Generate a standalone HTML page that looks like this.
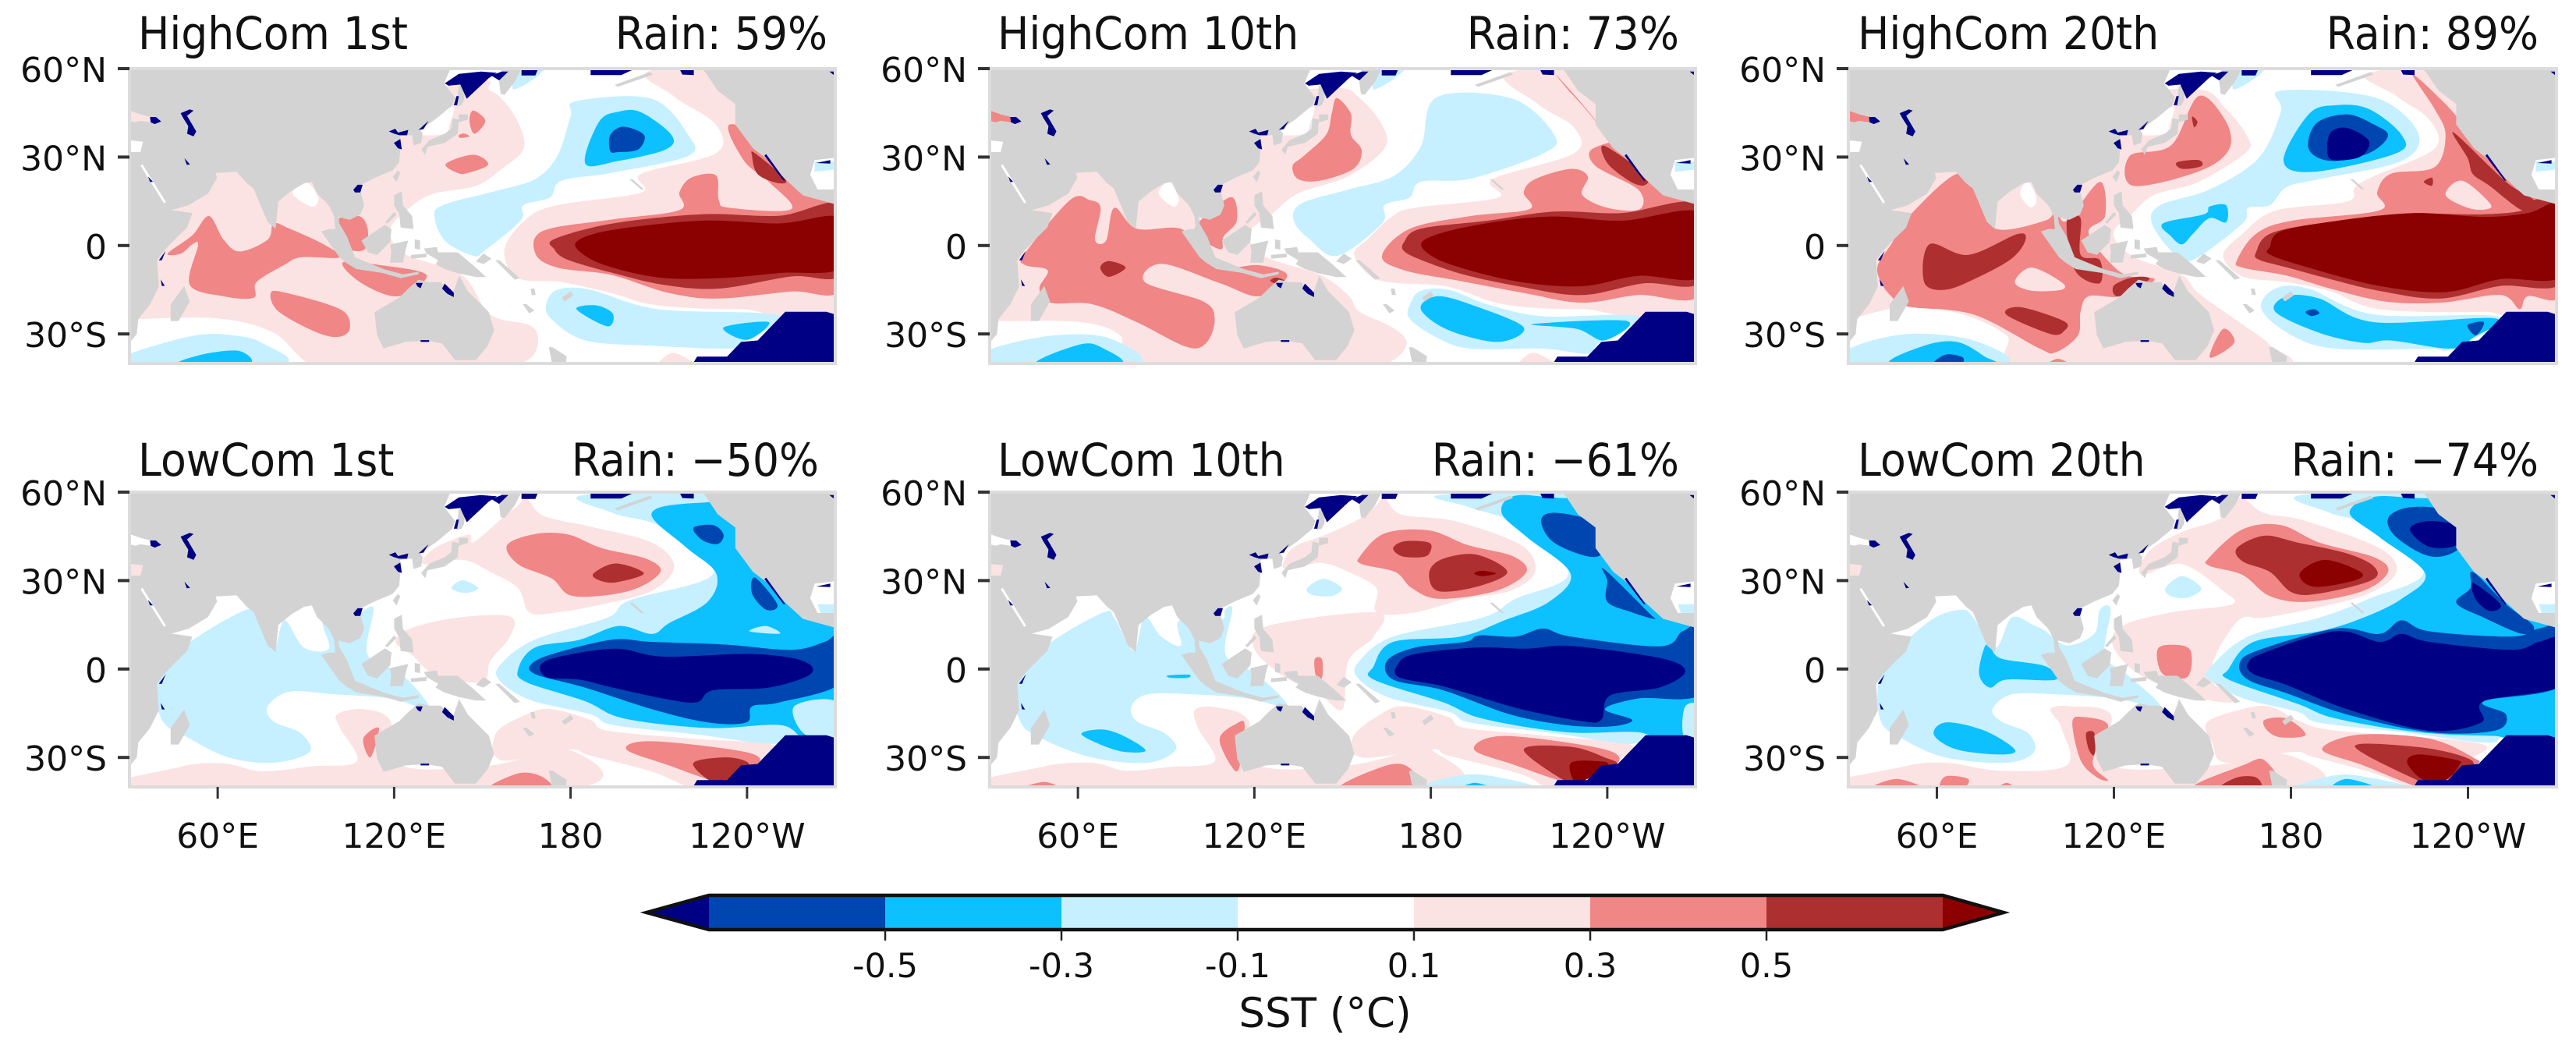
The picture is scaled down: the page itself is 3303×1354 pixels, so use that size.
<!DOCTYPE html>
<html lang="en">
<head>
<meta charset="utf-8">
<title>SST composites</title>
<style>
html,body{margin:0;padding:0;background:#fff;}
svg{display:block;}
text{font-family:"DejaVu Sans","Liberation Sans",sans-serif;fill:#111;}
</style>
</head>
<body>
<svg id="figure" xmlns="http://www.w3.org/2000/svg" width="3303" height="1354" viewBox="0 0 3303 1354">
<rect x="0" y="0" width="3303" height="1354" fill="#fff"/>
</svg>
<script>
// ---------- chart values ----------
const panelTitles = ["HighCom 1st","HighCom 10th","HighCom 20th","LowCom 1st","LowCom 10th","LowCom 20th"];
const panelRain = ["Rain: 59%","Rain: 73%","Rain: 89%","Rain: \u221250%","Rain: \u221261%","Rain: \u221274%"];
const lonTicks = [60,120,180,240];
const lonTickLabels = ["60°E","120°E","180","120°W"];
const latTicks = [60,30,0,-30];
const latTickLabels = ["60°N","30°N","0","30°S"];
const colorbarEdges = [-0.7,-0.5,-0.3,-0.1,0.1,0.3,0.5,0.7];
const colorbarTicks = [-0.5,-0.3,-0.1,0.1,0.3,0.5];
const colorbarTickLabels = ["-0.5","-0.3","-0.1","0.1","0.3","0.5"];
const blackSeaLevels = [0.1,0.3,0.3,0,0,0];
const medSeaLevels = [0,0,0,0.1,0.1,0.1];

// contour regions: [level, [lon,lat, lon,lat, ...]]
const contoursHigh1st = [
[0.1,[152.2,52.9,156.2,50.2,161.9,42.3,164.1,33,156.6,26,147.8,20.2,133.6,17.6,125.7,13.2,118.6,5.2,124,-3,143,-10,152.7,-23.4,166,-27,169,-32,166,-38.4,154.6,-41,115,-41,93,-41,79,-29.6,60,-24.7,31.5,-25,33,-25,40,5,50,20,70,35,120,50,150,56]],
[0.1,[208.6,59.6,215,50.7,229.4,41,229.4,31.3,204,24.3,204,18,175.5,13.7,165,9,157.5,-1.3,162,-11,177,-12.4,194.4,-16.3,209.5,-20.3,238,-21.6,272,-20.3,272,60]],
[0.1,[210,-41,214,-36.5,219,-38,222,-41]],
[0,[85.5,17.6,90,21.6,94.2,16.2,92,13.2]],
[0,[128.8,38.7,139.8,47.1,138.9,41,137.2,37.9,129.7,37.4]],
[0.3,[43,-2.7,51.4,3.5,57,10,62,2,67.5,-2,77,2,79,7.5,84.5,5.7,96,0.4,101.6,-4,88.3,-4,82.6,-6.6,73.2,-12.4,72.2,-17.7,61.8,-17.2,50.5,-13.3,53.3,0,51.4,0.4,47.6,-2.7]],
[0.3,[100.6,8.4,108,10,111,5.7,110,-1.3,103.5,-0.5]],
[0.3,[102.5,-5.8,115,-6.6,131,-10,121.5,-17.2,109,-12.8]],
[0.3,[137.6,27.7,146.9,30.8,152,27.5,145.1,24.6,141.6,24.6]],
[0.3,[146.9,45.8,151,42.3,147.3,37.9,145.6,42.3]],
[0.3,[142,37.4,143.8,38,145.6,37,142.5,36.5]],
[0.3,[78,-16.3,82.6,-15.9,101.6,-21.6,105,-27.8,101.6,-30.9,94,-29.6,80.8,-22.5]],
[0.3,[234,41,251,34,272,14.5,272,-14.6,255,-15.6,230,-18,213,-16,194,-10,175.5,-7.5,168,-2.7,170.7,5,194,8.8,217,12,217,18,221,23,229.4,23.8,230.4,15.4,234,12.8,255,12.3,247.4,21.6,239,28.7]],
[0.5,[174.5,2.2,194.4,7.5,224.7,10.6,251,10.1,272,13.7,272,-9.6,255,-10.5,230.4,-14.6,211.5,-13.3,194.4,-9.3,179.2,-4.9,174.5,-1.3]],
[0.5,[242.7,31.3,253,22.5,250.4,21.2,243.6,24.2,241.7,30.4]],
[0.7,[182,1.3,194.4,5.3,224.7,8.4,251,7.5,272,9.3,272,-7.5,251,-9.3,232,-11,211.5,-11,194.4,-7.5,185,-3.5]],
[-0.1,[182,49,207.5,49.8,220,37.5,220,30.4,194.4,24.7,177,22,173,16.3,164,13.7,163,8.4,150.8,-1.7,147,-3.5,137.6,1.3,133.8,9.3,136.6,13.7,154.6,18.5,167.9,22.5,175.5,30.4,180,43.7]],
[-0.1,[160.5,53,166,55.5,171,60,164,60,161,57]],
[-0.1,[171.7,-20,175.5,-15,186.8,-15,209.6,-21.6,251,-23.8,238,-33,234,-35,207.6,-34,185,-32.2,173.5,-25]],
[-0.1,[30.6,-36.6,52.3,-30.5,65.6,-30.5,75,-33,81.7,-40.2,29,-40.2]],
[-0.3,[185,27.8,189.7,42,196.3,45.4,203.9,45.2,214.3,37.5,212.4,32.6,196.3,28.7]],
[-0.3,[182,-21.6,188.7,-20.3,194.4,-23.2,192.5,-27.4]],
[-0.3,[232,-27.8,247.4,-26,240,-32]],
[-0.3,[46.7,-40.2,56,-36.7,67.5,-35.8,70.3,-40.2]],
[-0.5,[193.5,32,193.5,37.5,198,40.3,205,37.5,203,32.6,196.3,31.7]]
];
const contoursHigh10th = [
[0.1,[148,53.4,155.8,50,163.4,41,164.3,33,152,23.5,135,17.7,126.4,11,118,4,123.6,-3.7,142.5,-10,152,-17,155.8,-22.5,167,-27.8,171.8,-33,167,-39,155.8,-41,81.9,-41,74.3,-30.4,61,-26,32.6,-25.6,33,-25,40,5,50,20,70,35,120,50]],
[0.1,[207.8,59,216.4,48,228.7,40,228.7,31.3,201,22.5,203,16.3,174.7,12.8,167,10,158.6,2.2,153.9,-3,159.5,-10.4,167,-12.6,186,-14,205,-20,231.5,-21.6,272,-20,272,60]],
[0.1,[210,-41,214,-36.5,219,-38,222,-41]],
[0,[87.5,17.6,91,21.6,94.2,16.2,92.5,13.2]],
[0,[128.8,38.7,139.8,47.1,138.9,41,137.2,37.9,129.7,37.4]],
[0.3,[42,-2.7,57.3,15.4,64,15.4,67.7,12.8,65.8,2,69.6,1.7,72.4,12.8,80,5.7,95,5.7,100.8,-2.3,108.4,-7.6,121.7,-6.7,131.2,-10.2,121.7,-17.2,108.4,-12.8,88.5,-6.2,82.8,-12.4,102.7,-19,106.5,-25,103.7,-33,97,-34.4,80,-26,64.8,-19.9,50.6,-19.4,46.9,-14.6,49.7,-8.4,42,-6.6]],
[0.3,[100.8,7.5,112,16.4,114,8.4,109.5,3,108.6,-1.3,101,3]],
[0.3,[148,50,152.8,44.7,152.8,37.6,156.5,32.3,153.7,26,142.4,22,134.9,22.5,133,27,136.8,30.4,144.4,37.6,146.3,44.7]],
[0.3,[222.5,58,228,52,234,45,237,41,232,47,226.5,53]],
[0.3,[235.3,33,250.5,34,271,14.5,272,-16.3,250.5,-16.8,231.5,-19.4,212.6,-16.3,189.9,-12,171,-8.4,163.4,-3.5,172.9,5.7,193.6,10,213.5,12.3,211.6,18,215.4,22.5,227.7,26,233.4,23.4,231.5,17.2,240,12.8,251,12.3,250.5,19,236,27]],
[0.5,[171,1.3,176.6,5.7,199.3,8.4,222,11.5,244.8,11,272,13.7,272,-12,252.4,-12.8,231.5,-16.8,210.7,-14,191.8,-10,178.5,-5.6,171,-2]],
[0.5,[239,33.8,253,24,252.5,20.4,247.5,21.9,240,28]],
[0.5,[67.6,-7.5,70.5,-5.3,76.2,-7.5,70.5,-10.6]],
[0.5,[125.4,-11.9,127.3,-10.9,130.2,-11.9,127.3,-12.8]],
[0.7,[177.5,1.7,193.6,6.6,220,9.8,244.8,8.4,272,11,272,-10.3,250.5,-10.3,231.5,-13.8,210.7,-12.4,191.8,-8,180.4,-3.6]],
[-0.1,[182,50.3,207.8,49.8,222,37.5,218.4,31.3,193.6,22.7,176.6,21.6,172.8,16.3,164.3,13.7,163.4,7.5,148.2,-3.5,138.7,2.2,133.4,8.4,135.9,14.2,152,19,167.2,23.5,176.6,33.6]],
[-0.1,[160.5,53,166,55.5,171,60,164,60,161,57]],
[-0.1,[172.9,-20,176.6,-15.4,186,-15,199.4,-20,218.3,-24,250.4,-24,237.2,-33,233.4,-36.7,218.3,-35,193.7,-35,182.4,-31.4,172.9,-25]],
[-0.1,[30,-35.3,51.6,-30.5,70.5,-31.4,80,-40.2,29,-40.2]],
[-0.3,[176.6,-21.6,182.3,-17.2,195.5,-20.7,211.6,-27.8,203,-32.7,186,-28.7]],
[-0.3,[214.5,-26.7,246.7,-25.6,239,-32.2,229.7,-28.3]],
[-0.3,[45.9,-40.2,61,-33.5,68.6,-34.9,74.3,-40.2]]
];
const contoursHigh20th = [
[0.1,[148.7,53,158,46.3,165.4,36.6,164.5,31.3,148.7,21.6,133.8,17.2,126.4,11,119.9,4,126.4,-3.7,143,-10,148.7,-16.2,163.6,-26.8,172.9,-33.8,174.7,-41,91,-41,83.6,-30.5,68.7,-23.4,50,-20.7,30.6,-25,33,-25,40,5,50,20,70,35,120,50]],
[0.1,[208,59,215.7,50.7,226.8,42.8,228.8,33,208,23.5,201.7,19.8,199,14.9,174.7,11.8,163.6,4,157,-3.4,163.6,-10.5,178.5,-12.4,193.3,-15.5,210,-21.6,245.4,-22.5,272,-20.8,272,60]],
[0,[88.2,17.7,91,21.6,93.8,15.4,91.5,13]],
[0,[128.8,38.7,139.8,47.1,138.9,41,137.2,37.9,129.7,37.4]],
[0.3,[40,-6.6,44.5,0.4,50,9.3,66.8,24.3,74.3,17.2,79.9,5.7,96.6,8.4,100.3,12,104,8.4,115.2,21.6,117,10,111.5,4,122.6,-9.3,133.8,-11.5,122.6,-17.2,111.5,-17.2,108.7,-22.5,107.8,-30.5,100.3,-36.2,94.7,-34.9,72.4,-23.4,50,-20.7,44.5,-17.2,40.8,-12]],
[0.1,[86.4,-12.4,92,-7.5,102.2,-12.4,102.2,-15,92,-15.3]],
[0.3,[148.7,50.7,158,42,158.9,32.4,148.7,25.1,126.4,20.3,125.4,30.4,139.4,34]],
[0.3,[221.3,58,228.7,46.3,232.4,37.5,228.7,26.6,213.8,24.3,209.2,18,210,11.9,180.3,8.4,168.2,4,161.7,-5,163.6,-7.5,178.5,-10.2,193.3,-14.6,212,-19,230.6,-19.4,251,-16.8,257.5,-21.6,260.3,-17.2,272,-16.3,272,13.7,245.4,34,232.4,48]],
[0.1,[232.4,17.2,238,22,247.3,14.5,246.4,12.3,239.9,12.8]],
[0.3,[157,-28.3,160.8,-33,152.5,-38]],
[0.3,[97.5,-40.5,101,-38.4,105,-40.5]],
[0.5,[168.2,-2.2,172.9,4,189.6,7.5,217.5,10.6,245.4,10.6,258.5,11.9,262,15.4,272,13.7,272,-12.4,251,-13.7,230.6,-18,210,-15.4,193.3,-11.4,178.5,-7.4,169.1,-4.8]],
[0.5,[235.2,38.3,252.9,21.6,262.2,15.4,258.5,11.9,247.3,20.3,241.7,24.2,239.9,29.6]],
[0.5,[55.7,-12.4,57.5,0.4,70.6,-3.2,87.3,3.9,90,1.8,85.4,-4.4,74.3,-10.6,63,-15]],
[0.5,[83.6,-23.5,88.2,-20.9,103.1,-25.7,103.1,-29,98.5,-30]],
[0.5,[104,7.9,108.7,9.3,108.7,-3.1,115.2,-4.9,115.2,-12.8,106.8,-8.4]],
[0.5,[119.9,-13.7,126.4,-10.8,132,-11.5,121.7,-17.2]],
[0.5,[141.3,28.2,148.7,29,149.6,26.9,143.1,26]],
[0.5,[146.5,43.7,148.3,42,147.2,40.1]],
[0.5,[225,21.6,227.8,23,227.8,20.3]],
[0.7,[172.9,-0.4,176.6,4.8,195.2,8.3,221.3,11,245.4,9.7,260.3,11,272,13.7,272,-10,251,-11.4,232.4,-15.8,210,-13.7,186,-7.5,172.9,-3.1]],
[-0.1,[176.6,52.5,208.2,50.3,223,38.4,217.5,28.7,189.6,22.5,178.5,19.8,172.9,13.7,165.4,12.7,163.6,7.5,146.8,-4.9,140.3,-2.7,132.9,7.5,135.7,13.7,152.4,19,169,29.6,176.6,45.4]],
[-0.1,[160.5,53,166,55.5,171,60,164,60,161,57]],
[-0.1,[170,-21.6,174.7,-14.6,185.9,-14.6,208.2,-23.4,251,-24.3,234.3,-35,226.8,-35,195.2,-35,180.3,-30.5]],
[-0.1,[30.6,-34.9,50,-30,72.4,-32.2,82.6,-40.2,29.6,-40.2]],
[-0.3,[177.5,28.7,186,44.5,195.2,47.6,206.4,46.3,217.5,37.5,215.7,31.3,187.8,25]],
[-0.3,[136.6,7.5,150.5,10.6,152.4,13.2,158,13.7,158,7.9,152.4,9.3,146.8,4,143.1,0.4,139.4,3.1]],
[-0.3,[174.7,-22.5,178.5,-17.2,189.6,-18,208.2,-26,249.2,-24.7,241.7,-31.3,234.3,-35,213.8,-32.2,204.5,-33,189.6,-29.6]],
[-0.3,[44.5,-40.2,55.7,-34,66.8,-32.7,76.1,-37.6,78,-40.2]],
[-0.5,[186,32.8,188.7,41.5,199,44.5,208.2,41,212.9,37.2,206.4,31.3,193.3,28.7]],
[-0.5,[185,-22.5,187.8,-21.6,189.6,-23,186.8,-23.9]],
[-0.5,[239.9,-27,245.4,-26,242.7,-30.5]],
[-0.5,[59,-40.2,63,-37,68.7,-37.9,67.8,-40.2]],
[-0.7,[192.4,31,193.3,38.1,198.9,39.9,206.4,35.5,203.6,30.2,195.2,28.9]]
];
const contoursLow1st = [
[0.1,[165,58,170.7,52,186.8,48.3,207.6,42.9,215.2,34.7,207.6,26.5,190.6,21.9,175.5,19.2,166,19.2,162.2,27.4,152.7,32.9,143.3,37,130,35.6,133.8,41,145.2,45.6,147,43,156.5,51,162.2,55.6]],
[0.1,[125.3,13.7,141.4,17.4,159.4,17.8,159.4,11,152.7,2.8,149.9,-4.5,133.8,-1.7,126.2,4.6,120.5,9.2]],
[0.1,[32.5,-40.5,46.7,-33.3,61.8,-32,75,-34.7,92,-33,107.3,-31.3,101.6,-20,100.6,-15.4,109.2,-13.6,118.6,-17.3,122.4,-32.7,152.7,-32.7,179.2,-27.3,179.2,-40.5]],
[0.1,[165,-15.4,173.6,-13.6,186.8,-17.3,192.5,-20.9,220.9,-23.6,249.3,-25.9,241.7,-32.7,228.5,-40.5,220.9,-40.3,207.6,-34.8,186.8,-29.4,179,-27.3,156.5,-31,154.6,-21.8]],
[0.3,[158.4,42,167.9,45.8,179.2,45.6,190.6,41,205.7,37.4,210.5,32.8,200,26.5,181,24.7,173.6,30.7,162.2,35.5]],
[0.3,[109.5,-23.6,114.8,-20,112,-30]],
[0.3,[152.7,-40.5,162.2,-35.4,169.8,-36.3,172.6,-40.5]],
[0.3,[199,-27.3,207.6,-24.5,239.7,-28.2,243.6,-32.7,232.3,-38,228.5,-38,213.4,-32.7]],
[0.5,[187.8,32.4,195.4,35.8,204.9,32.4,195.4,29.4,189.7,30.1]],
[0.5,[221.8,-31.8,234,-30,240.8,-32.7,232.3,-38,227.5,-38]],
[-0.1,[51.4,9.7,69.4,20,73.2,17.3,78.9,6.4,82.7,16.5,89.3,7.3,97.8,6.9,95.9,16.5,105.4,16.5,110.1,20.1,113,20,111,4.7,122.4,-1.6,131.9,-13.3,118.6,-10,99.7,-8.6,84.5,-7.7,77,-12.7,78.9,-17.7,88.3,-21.8,91.2,-28.2,78.9,-31.8,63.7,-30,50.5,-23.6,41,-17.2,39,-1.8]],
[-0.1,[186.8,59.3,194.4,52.9,211.4,47.9,228.5,32.4,200,23.3,192.5,17.4,167.9,10,156.5,1.9,155.6,-3.6,166,-10.4,186.8,-15.4,194.4,-19,222.8,-22.2,247.4,-25.4,255,-23.6,272,-23.6,272,59.3]],
[-0.1,[139.5,27.4,143.3,30.1,148.6,27.4,144.2,25.8]],
[-0.3,[225.7,56.5,207.6,52.9,219,41.5,229.5,32.4,226.6,22.8,213.4,15.5,207.6,11.9,196.3,14.6,183,9.9,167.9,7.3,162.2,0,165,-4.5,184.9,-10.9,198.2,-16.8,226.6,-20,251.2,-19,259.7,-23.6,272,-23.6,272,56.5]],
[-0.1,[256,-12.7,270,-10.9,272,-22.7,259.9,-22.3]],
[-0.1,[240.8,12.8,246.4,14.6,251.2,12]],
[-0.5,[167,2,175.5,5.6,194.4,10,207.6,9.2,232.3,8.3,255,6.5,266.4,9.2,272,11.9,272,-4.5,251.2,-11.3,241.7,-12.7,239.8,-18.1,226.6,-18.1,207.6,-13.6,184.9,-6.3,167.9,-1.7]],
[-0.5,[221.8,47.9,228.5,48.8,232,45.6,230,42.4,224.7,43.8]],
[-0.5,[242.7,31,250.3,21.9,246.5,20.1,241.7,25.6]],
[-0.7,[171.7,2.8,194.4,6.9,211.4,4.2,241.7,5.1,258.8,2.8,261.6,-1.7,247.4,-6.3,228.5,-7.2,222.8,-11.3,211.4,-10,194.4,-6.3,183,-3.6,171.7,-2.7]]
];
const contoursLow10th = [
[0.1,[164.3,58,170,52.4,188,50.2,210.7,42,215.4,32.9,206.9,26.5,191.7,23.8,174.7,19.2,161.5,19.2,161.5,27.4,152,32.9,142.5,36,130.2,33.8,133,41,144.4,45.6,155.8,51,161.5,55.6]],
[0.1,[124.5,14.6,161.5,19.2,160.6,11,152,2.8,150,-13.6,142.5,-9,129,-1.8,119.8,7.3]],
[0.1,[31.7,-40.5,47.8,-33.2,64.8,-31.8,76.2,-34.5,91.4,-33.2,106.5,-31.3,100.8,-20,100,-13.6,108.4,-13.2,117.9,-17.3,121.7,-32.7,152,-32.7,174.7,-27.3,180.4,-27.3,180.4,-40.5]],
[0.1,[164.3,-14.5,171.9,-12.7,186,-16.3,191.7,-20,220,-22.7,248.4,-25.9,240.8,-32.7,231.3,-40.3,220,-40.3,210.7,-35.7,186,-29.4,180.4,-27.3,156.5,-30,153.7,-22.7]],
[0.3,[156,38.3,164.3,46,179.5,47,192.7,42,207.8,38.3,212.5,32.9,202.2,26.5,183,23.8,173.6,27.4,167.9,32.9,156.5,35.6]],
[0.3,[108.2,-23.6,113.8,-18.6,116.7,-19,114.8,-33.6,112,-32.7]],
[0.3,[140.5,3.3,143,3.3,143,-3,140.9,-2.2]],
[0.3,[149,-40.5,165,-32.7,172.8,-33.6,174.7,-40.5]],
[0.3,[41,-40.5,48.6,-38.3,53.3,-40.5]],
[0.3,[194.7,-27.3,205.1,-22.7,239.2,-27.3,243,-32.7,229.8,-38.2,225,-38.2,208.9,-32.7]],
[0.5,[167.2,41,171,43.3,179.5,42.8,179.5,39.2,176.6,37.9,170,38.3]],
[0.5,[179.5,32.9,184.2,37.4,195.6,38.8,206,32.9,195.6,27.9,182.3,26.5]],
[0.5,[211.6,-27.3,227.7,-26.4,239.2,-30,243,-32.7,230.7,-38.2,226,-38.2]],
[0.7,[194.7,32.4,197.5,33.3,202.2,32.4,197.5,31.5]],
[0.7,[227.7,-31.8,237.2,-31.3,240,-32.7,231.5,-38.2,228.7,-38.2]],
[-0.1,[51,9.2,68.7,19.2,72.4,17.3,78.9,6.2,82.7,17.5,88.3,11,95,8,94.5,16.5,108.4,16.5,110,20.1,112.5,20.1,110.3,4.7,120.9,-1.8,131.3,-12.7,117.9,-10,99,-8.6,83.8,-8.6,78.2,-12.7,80,-17.7,89.5,-21.8,93.3,-27.3,83.8,-31.8,64.8,-30,47.7,-23.6,40.1,-17.2,39.2,-1.8]],
[-0.1,[186,59.3,193.6,54.7,208.8,49.2,226.8,32.4,208.8,23.8,197.5,17.4,167.2,11,155.8,2.8,154.9,-2.7,165.3,-9.5,186,-14.5,193.6,-18.2,222,-21.8,246.7,-25.4,254.2,-23.6,272,-23.6,272,59.3]],
[-0.1,[137.9,27.4,143.6,30.6,149.8,27.4,146.4,24.8,139.8,25.1]],
[-0.1,[177,-40.5,190.4,-36,201.7,-36.5,214.9,-40.5]],
[-0.3,[227.7,57.9,208.8,58.8,204.1,52.9,212.7,44.7,227.5,32.4,220.2,22.8,205,16.5,190,11,167.2,9.2,160.6,1,160.6,-3.6,184.2,-11.3,197.5,-16.8,225.9,-21.4,250.5,-21.4,272,-23.6,272,57.9]],
[-0.1,[266.5,-12.7,272,-12.7,272,-22.7,266,-22.7]],
[-0.3,[90.6,-2.2,97.7,-1.9,97.3,-3,91.6,-3]],
[-0.3,[61.3,-22.3,68,-20.5,75.5,-22.7,83,-27.7,73.6,-27.7]],
[-0.3,[190.4,-40.5,195,-38.6,200.9,-40.5]],
[-0.5,[165.1,2.8,174.7,7.3,191.7,9.2,196.4,11.4,208.8,11,218.2,13.7,227.7,11,258,7.7,265.6,12.8,272,13.7,272,-8.2,250.5,-10,239.2,-13.6,248.5,-17.3,241,-19.5,225.8,-19,206.9,-15.4,184.2,-7.2,167.2,-3.6]],
[-0.5,[217.5,50.2,222,53,235,50,240,42,235,38,222,42.8]],
[-0.5,[239,33.8,254,19.2,256,17,248.5,19.2,240,22.8,240,30]],
[-0.7,[169,1.9,174.7,5.1,195.5,7.3,212.6,6.9,227.7,7.8,258,3.7,266.5,-0.8,258,-6.2,241,-9,238,-17.2,231.5,-17.7,210.7,-13.6,191.7,-8,182.3,-5.4,169,-2.7]]
];
const contoursLow20th = [
[0.1,[162.6,58,171,52.9,185,50.2,210,41,215.7,32.9,206.4,25.6,189.6,21,171,17.4,163.6,17.4,158,11,153.4,1.9,153.4,-4.5,161.7,-10.9,149.6,-10,130,-2.7,119.9,7.3,122.7,14.6,139.4,19.2,159.9,21.9,157,26.5,142.9,35.6,129.2,31.9,131.9,40,143.1,46.5,156.1,51]],
[0.1,[163.6,-13.6,172.9,-12.7,182.2,-17.3,195.2,-20.9,244.5,-25.4,236,-32.7,226.8,-40.5,221.3,-40.5,208.2,-35.4,187.8,-29.9,180.3,-28.2,158,-31.8,153.4,-25.4,151.5,-18.1]],
[0.1,[30.6,-40.5,48.2,-33.2,63,-31.8,81.7,-34.5,104,-32.7,102.2,-20,98.5,-13.6,105.9,-12.7,118.9,-15.4,118.9,-32.7,153.4,-32.7,178.5,-29,180.3,-40.5]],
[0.3,[152.4,37.9,163.6,47.4,176.6,48.8,189.6,42.9,208.2,37.9,212.9,32.9,204.5,26.5,185.9,22.8,172.9,24.7,163.6,31.9,152.4,35]],
[0.3,[105.9,-18.1,109.6,-16.3,118,-19,113.4,-29,113.4,-33.6,118,-37.7,114.3,-36.8,108.7,-30.9]],
[0.3,[171,-17.3,178.5,-16.8,185,-22.3,176.6,-23.2,172,-20.9]],
[0.3,[134.7,6.4,139.4,8.2,145.9,6.4,145,-2.6,136.6,-1.7]],
[0.3,[146.8,-40.5,163.6,-32.7,171,-30.9,174.7,-40.5]],
[0.3,[38,-40.5,46.4,-37.3,54.7,-40.5]],
[0.3,[61.3,-40.5,63,-36.4,70.6,-37.3,68.7,-40.5]],
[0.3,[80.8,-40.5,83.6,-38.6,86.4,-40.5]],
[0.3,[190.6,-27.3,202.7,-22.3,226.8,-23.6,241.7,-30,242.6,-32.7,228.7,-40,223,-40,204.5,-32.7]],
[0.5,[161.7,41,171,45.2,182.2,42.9,199,39.2,208.2,34.7,207.3,30.1,189.6,25.6,180.3,26,172.9,32.9,163.6,36.5]],
[0.5,[110.6,-21.8,113.4,-21.8,113.4,-29,111.5,-27.3]],
[0.5,[201.7,-26.3,221.3,-26.3,236.2,-29,241.7,-32.7,228.7,-38.2,224,-38.2]],
[0.5,[156.1,-40.5,161.7,-36.8,168.2,-36.8,169.2,-40.5]],
[0.7,[183,32.4,191.5,37,203.6,32.9,201.7,30.1,187.8,27.9]],
[0.7,[219.4,-31.8,223.1,-29,236.2,-30.9,237,-32.7,232.4,-37.7,225,-37.7]],
[-0.1,[49.2,9,59.5,17.5,68.7,20.1,72.4,17.3,79.9,7.3,85.4,17.5,92.9,14.8,96.6,13,104,8,113.3,11.9,115.2,20.1,118.9,20.1,116.9,4.7,124.4,-1.8,135.6,-12.7,120.7,-10,100.3,-8.6,85.4,-8.6,78.9,-13.6,81.7,-17.7,91,-21.8,92.9,-28.2,83.6,-31.8,63,-30,48.2,-23.6,40.8,-17.2,40.8,-1.8]],
[-0.1,[185.9,59.3,193.3,52.9,208.2,48.3,225,32.9,206.4,23.8,189.6,17.4,165.4,11,152.4,0.2,152.4,-3.6,163.6,-9.9,182.2,-14.5,189.6,-18.2,217.5,-21.4,246.3,-25,252.9,-22.7,272,-22.7,272,59.3]],
[-0.1,[137.5,27.4,143.1,31.5,149.6,27.4,145,24.2,139.4,24.7]],
[-0.1,[182.2,-40.5,195.2,-36,206.4,-36.8,219.4,-40.5]],
[-0.3,[226.8,57.9,208.2,58.4,199.9,52.9,210,44.7,225.5,32.4,217.5,23.8,204.5,17.4,189.6,12.8,167.3,9.2,158.9,0,158.9,-3.6,182.2,-11.8,195.2,-16.8,223,-21.4,249,-22.7,272,-22.7,272,57.9]],
[-0.3,[76.1,7.3,78,7.7,81.7,3.6,96.6,1,100.3,-3.6,83.6,-3.6,78,-6.3,74.3,-1.7]],
[-0.3,[59,-22.3,63.1,-18.1,76.1,-20.9,86.4,-27.3,81.7,-29,66.8,-27.3]],
[-0.3,[194.3,-40.5,199,-37.3,209.2,-40.5]],
[-0.5,[162.6,1.9,169,6.4,195.2,13.7,210,11.9,217.5,16.5,226.8,12.8,254.7,11,264,13.7,272,13.7,272,-5.4,245.4,-10.9,252.9,-15.4,249.2,-20.9,226.8,-21.4,198.9,-15.4,178.5,-8.2,165.4,-3.6]],
[-0.5,[212.9,51,219.4,54.7,232,54,240,47.4,236,40.1,226.8,38.3,215.7,44.7]],
[-0.5,[241.7,32.9,252.9,21.9,262.2,14.6,258.5,11.9,245.4,17.4,236.1,22.4,240.8,27.4]],
[-0.7,[165.4,1.9,171,5.6,195.2,12.8,210,9.2,217.5,11.9,226.8,9.2,254.7,6.5,264,9.2,272,10,272,-5.4,245.4,-10.9,244.5,-18.1,226.8,-20.9,199,-13.6,178.5,-5.4,167.3,-1.7]],
[-0.7,[220.3,47.4,226.8,50.2,238,48,236,42,226.8,41.5]],
[-0.7,[241.7,29.2,251,21.9,247.3,19.7,242.6,23.7]]
];
const panelContours = [contoursHigh1st,contoursHigh10th,contoursHigh20th,contoursLow1st,contoursLow10th,contoursLow20th];

// shared geography, lon/lat vertices
const landMasses = [
[28,62,140,62,137,55,140.7,50.2,139.8,47.6,134.5,43.2,128.8,39.2,129.7,37.9,129.2,34.8,126.6,33.9,126.1,37.4,124.8,37.4,122.1,37,122.1,32.6,121.7,28.2,119.5,25.5,113.3,22.9,108,20.2,108.9,17.1,109.8,13.6,108.5,10.5,104.9,8.7,101.4,9.6,99.6,10,98.3,12.7,97.4,14,93.8,17.6,92,21.6,89.4,21.1,85,18.5,80.6,14.9,79.7,5.7,77,7.9,72.2,19.3,69.9,21.1,66.4,25,59.3,24.6,59.8,22.9,56.7,17.6,50,13.6,44.3,12,51.4,11,49.6,6.1,46,2.6,41.7,-1.8,39.4,-5,40,-14,37,-20,33,-25,32.5,-30,30,-33,28,-33],
[155.7,55.5,157,62,163,62,162.8,59,161,55.5,157.5,51.1,156.2,51.5],
[223,62,226,58.5,230,52.5,236,48,236,41,242,33,246.5,29.5,253,22.5,259,17,270,14,275,14,275,62],
[142,54.2,144.2,54.2,143.8,49.3,142.9,47.6,141.2,47.1],
[142,44.5,145.1,44.5,145.1,42.7,142,41.8],
[139.8,43.2,142,42.7,141.6,37.9,137.2,34.8,131.4,33.5,130.5,30.8,129.2,32.6,131.9,35.7,137.2,37.9,139.4,39.6],
[195,54.5,207,58.8,208,58,196,53.8],
[200,22.5,201,22.5,205,19,204,19],
[119.5,23.3,121.3,25.5,122.1,24.6,120.8,21.5],
[120,17.1,122.6,18.4,123,13.6,126.1,10,126.6,5.6,122.2,6.1,121.7,10.9,120,13.6],
[116.9,7.8,120,11.4,120.8,10.5,117.7,7.4],
[98.3,12.7,101,10,101.4,7.4,104,3,106.7,-4,116.4,-8,123,-9.8,128.3,-8.9,128.3,-9.8,122.2,-11.1,116,-9.3,107.1,-8,103.6,-5.8,101.4,-4,98.3,0.4,95.2,4.8,97.9,5.6,100,5.6,99.6,10],
[108.9,1.7,116.9,7,119.1,5.6,118.6,1.2,114.2,-3.2,111.1,-2.3],
[118.6,0.3,124.8,1.7,123.9,-1.4,123,-5.8,118.6,-5.8,119,-2.3],
[127,2.1,128.8,1.7,128.8,-1.4,127,-1],
[125.7,-3.2,131,-2.7,131,-4,125.7,-4.5],
[130.1,-1,134.5,-0.5,135,-2.3,141.6,-2.3,146.9,-6.7,151.3,-10.7,147.8,-10.7,141.6,-9.4,137.2,-8,134.1,-6.3,135,-5,131,-2.7],
[147.8,-5.4,150.4,-2.7,153.1,-4.5,150.4,-6.3],
[154.4,-5,155.8,-5,162.8,-11.1,161,-11.6],
[113.3,-22.6,121.7,-17.7,124.8,-14.6,128.3,-11.6,131.9,-12.4,135.9,-12.4,139.8,-16.8,142.1,-10.2,145.1,-15.5,152.2,-22.6,154,-28.8,151.8,-34,147.8,-38.9,140.7,-38.9,136.3,-33.2,131,-32.3,123.9,-32.7,116.4,-34.9,114.2,-30.5],
[172.6,-34.5,173.9,-34.5,178.7,-37.6,178.3,-41,173.9,-41],
[163.7,-19.9,165,-19.9,167.7,-22.1,165.9,-23],
[166.4,-14.6,167.7,-14.6,168.1,-16.8,166.8,-16.8],
[177,-17.7,180,-15.5,181,-16.9,177.9,-19],
[48.6,-13.7,50.5,-19,46.7,-25.6,44,-25.6,44,-20]
];
const redSeaLine = [34.1,27.3,38,21,42.1,14.5];
const blackSeaShape = [30,45.8,33.7,44.5,37.2,43.6,37.2,41.8,33.7,42.3,32,41.8,30,42.3];
const medSeaShape = [30,35.7,34.6,35.2,33.7,31.7,30,31.7];
const gulfShape = [263,29,272,30,272,19,264,19,261.5,24];
const gulfPaleNorth = [263,28.5,272,28.5,272,26,263,25];
const gulfPaleSouth = [264,22,272,22,272,19,265,19];
const noDataShapes = [
[253,-22.5,267,-22.5,272,-24,272,-41,221,-41,223,-37.7,233.2,-37.7,238,-32.7,243.6,-32.2],
[137.2,55,142,58.2,149.5,59,154.9,58.6,152.2,56.8,144.7,49.8,142.5,54.6,138.5,54.2],
[153,57.7,156.6,59,158.8,59,155.7,56],
[47.4,44.9,50.5,46.2,51.8,45.8,49.6,44,52.7,38.7,51.8,37,49.6,37.9,50,40.5,48.3,43.2],
[37,43.6,39,43.6,40.8,42.1,38.6,41.2,37.2,41.8],
[48.7,29.6,50.6,27.5,49.5,27.4],
[36.3,23.4,38,21.6,37,21.6],
[118.2,38.7,120.4,39.6,121.3,38.3,124.8,39.2,124.4,37.4,121.7,37.4,119.9,38],
[119.9,34.8,122.1,36.1,122.6,32.6,121.3,33],
[128.3,39.2,131.7,42.3,130,39.5],
[140.3,47.6,141.2,50.7,142,50.7,141.4,47.6],
[106.1,18.9,107.6,20.6,109.3,20.6,108.5,18,106.7,18],
[40,-5,42.3,-1.8,41,-5],
[40.6,-11.5,42,-13.7,41,-13.7],
[136.3,-14.6,137.2,-12.9,140.3,-16,140.3,-17.5,138.1,-16.4],
[127.3,-12.7,129.7,-12.7,129,-14.5,127.9,-13.9],
[129,-32.1,131.9,-32.1,131.9,-32.7,129,-32.7],
[163.3,60,169,60,168,57.7,163.3,57.7],
[186.8,60,202,60,197.2,57.8,186.8,57.8],
[217,60,221.9,60,221.9,57.8,218,58],
[268,59,270,59,269.5,57.8],
[263.5,28,268.3,29,268.3,27.8],
[246.5,31,253,22,252.4,22,245.9,30.5]
];

// ---------- layout ----------
const NS = 'http://www.w3.org/2000/svg';
const svg = document.getElementById('figure');
const panelLefts = [166,1269,2370];
const panelWidths = [905,905,908];
const rowTops = [88,631];
const panelHeight = 378;
const titleLefts = [177,1279,2382];
const rainRights = [[1061,2153,3255],[1050,2153,3255]];
const titleBaselines = [63,610];
const titleSqueeze = 0.925;
const LON0 = 30, LON1 = 270, LAT0 = 60, LAT1 = -40;

function levelColor(v){
  if(v >= 0.7) return '#8b0000';
  if(v >= 0.5) return '#ad2f2f';
  if(v >= 0.3) return '#f08686';
  if(v >= 0.1) return '#fce3e3';
  if(v > -0.1) return '#ffffff';
  if(v > -0.3) return '#c6f0ff';
  if(v > -0.5) return '#0dc0ff';
  if(v > -0.7) return '#0046b0';
  return '#000085';
}
function mk(tag,parent){
  const e = document.createElementNS(NS,tag);
  (parent||svg).appendChild(e);
  return e;
}
function addText(parent,str,x,y,size,anchor){
  const t = mk('text',parent);
  t.textContent = str;
  t.setAttribute('x',x);
  t.setAttribute('y',y);
  t.setAttribute('font-size',size);
  t.setAttribute('text-anchor',anchor);
  return t;
}
function squeeze(t){
  t.setAttribute('textLength',(t.getComputedTextLength()*titleSqueeze).toFixed(1));
  t.setAttribute('lengthAdjust','spacingAndGlyphs');
}

panelTitles.forEach(function(title,i){
  const col = i % 3, row = Math.floor(i/3);
  const left = panelLefts[col], w = panelWidths[col], top = rowTops[row], h = panelHeight;
  const xScale = function(lon){ return left + (lon-LON0)/(LON1-LON0)*w; };
  const yScale = function(lat){ return top + (LAT0-lat)/(LAT0-LAT1)*h; };
  const toPts = function(a){
    const p = [];
    for(let k=0;k<a.length;k+=2){ p.push([xScale(a[k]),yScale(a[k+1])]); }
    return p;
  };
  const straightPath = function(a){
    return toPts(a).map(function(q,k){ return (k?'L':'M')+q[0].toFixed(1)+' '+q[1].toFixed(1); }).join('')+'Z';
  };
  const smoothPath = function(a){
    const p = toPts(a), n = p.length;
    let d = 'M'+p[0][0].toFixed(1)+' '+p[0][1].toFixed(1);
    for(let k=0;k<n;k++){
      const p0=p[(k-1+n)%n], p1=p[k], p2=p[(k+1)%n], p3=p[(k+2)%n];
      d += 'C'+(p1[0]+(p2[0]-p0[0])/6).toFixed(1)+' '+(p1[1]+(p2[1]-p0[1])/6).toFixed(1)+' '
        +(p2[0]-(p3[0]-p1[0])/6).toFixed(1)+' '+(p2[1]-(p3[1]-p1[1])/6).toFixed(1)+' '
        +p2[0].toFixed(1)+' '+p2[1].toFixed(1);
    }
    return d+'Z';
  };

  const group = mk('g');
  
  

  const defs = mk('defs',group);
  const clip = mk('clipPath',defs);
  clip.setAttribute('id','clip'+i);
  const clipRect = mk('rect',clip);
  clipRect.setAttribute('x',left);
  clipRect.setAttribute('y',top);
  clipRect.setAttribute('width',w);
  clipRect.setAttribute('height',h);

  const map = mk('g',group);
  map.setAttribute('clip-path','url(#clip'+i+')');
  
  

  panelContours[i].forEach(function(c){
    const region = mk('path',map);
    region.setAttribute('d',smoothPath(c[1]));
    region.setAttribute('fill',levelColor(c[0]));
    
    
  });

  landMasses.forEach(function(a){
    const land = mk('path',map);
    land.setAttribute('d',straightPath(a));
    land.setAttribute('fill','#d3d3d3');
    
    
  });

  const waters = [[gulfShape,0],[row===0?gulfPaleNorth:gulfPaleSouth,-0.1],[blackSeaShape,blackSeaLevels[i]],[medSeaShape,medSeaLevels[i]]];
  waters.forEach(function(wt){
    const water = mk('path',map);
    water.setAttribute('d',straightPath(wt[0]));
    water.setAttribute('fill',levelColor(wt[1]));
    
    
  });

  const red = mk('polyline',map);
  red.setAttribute('points',toPts(redSeaLine).map(function(q){return q[0].toFixed(1)+','+q[1].toFixed(1);}).join(' '));
  red.setAttribute('fill','none');
  red.setAttribute('stroke','#fff');
  red.setAttribute('stroke-width','3');
  
  

  noDataShapes.forEach(function(a){
    const nd = mk('path',map);
    nd.setAttribute('d',straightPath(a));
    nd.setAttribute('fill','#000085');
    
    
  });

  const frame = mk('rect',group);
  frame.setAttribute('x',left);
  frame.setAttribute('y',top);
  frame.setAttribute('width',w);
  frame.setAttribute('height',h);
  frame.setAttribute('fill','none');
  frame.setAttribute('stroke','#dcdcdc');
  frame.setAttribute('stroke-width','4');
  
  

  latTicks.forEach(function(v,k){
    const tick = mk('line',group);
    tick.setAttribute('x1',left-15);
    tick.setAttribute('x2',left);
    tick.setAttribute('y1',yScale(v));
    tick.setAttribute('y2',yScale(v));
    tick.setAttribute('stroke','#333');
    tick.setAttribute('stroke-width','4');
    
    
    const label = addText(group,latTickLabels[k],left-29,yScale(v)+17,44,'end');
    
    
  });

  if(row===1){
    lonTicks.forEach(function(v,k){
      const tick = mk('line',group);
      tick.setAttribute('x1',xScale(v));
      tick.setAttribute('x2',xScale(v));
      tick.setAttribute('y1',top+h);
      tick.setAttribute('y2',top+h+15);
      tick.setAttribute('stroke','#333');
      tick.setAttribute('stroke-width','3');
      
      
      const label = addText(group,lonTickLabels[k],xScale(v),1087,44,'middle');
      
      
    });
  }

  const titleEl = addText(group,title,titleLefts[col],titleBaselines[row],58,'start');
  squeeze(titleEl);
  
  
  const rainEl = addText(group,panelRain[i],rainRights[row][col],titleBaselines[row],58,'end');
  squeeze(rainEl);
  
  
});

// ---------- colorbar ----------
const cbLeft = 909, cbRight = 2491, cbTop = 1148, cbBottom = 1192;
const cbMid = (cbTop+cbBottom)/2, tipLeft = 829, tipRight = 2569;
const cbScale = function(v){
  const lo = colorbarEdges[0], hi = colorbarEdges[colorbarEdges.length-1];
  return cbLeft + (v-lo)/(hi-lo)*(cbRight-cbLeft);
};
const cbGroup = mk('g');



const leftArrow = mk('polygon',cbGroup);
leftArrow.setAttribute('points',tipLeft+','+cbMid+' '+cbLeft+','+cbTop+' '+cbLeft+','+cbBottom);
leftArrow.setAttribute('fill',levelColor(-0.9));



const rightArrow = mk('polygon',cbGroup);
rightArrow.setAttribute('points',tipRight+','+cbMid+' '+cbRight+','+cbTop+' '+cbRight+','+cbBottom);
rightArrow.setAttribute('fill',levelColor(0.9));



for(let s=0;s<colorbarEdges.length-1;s++){
  const seg = mk('rect',cbGroup);
  seg.setAttribute('x',cbScale(colorbarEdges[s]));
  seg.setAttribute('y',cbTop);
  seg.setAttribute('width',cbScale(colorbarEdges[s+1])-cbScale(colorbarEdges[s]));
  seg.setAttribute('height',cbBottom-cbTop);
  seg.setAttribute('fill',levelColor((colorbarEdges[s]+colorbarEdges[s+1])/2));
  
  
}

const cbOutline = mk('polygon',cbGroup);
cbOutline.setAttribute('points',tipLeft+','+cbMid+' '+cbLeft+','+cbTop+' '+cbRight+','+cbTop+' '+tipRight+','+cbMid+' '+cbRight+','+cbBottom+' '+cbLeft+','+cbBottom);
cbOutline.setAttribute('fill','none');
cbOutline.setAttribute('stroke','#111');
cbOutline.setAttribute('stroke-width','4.5');



colorbarTicks.forEach(function(v,k){
  const tick = mk('line',cbGroup);
  tick.setAttribute('x1',cbScale(v));
  tick.setAttribute('x2',cbScale(v));
  tick.setAttribute('y1',cbBottom);
  tick.setAttribute('y2',cbBottom+14);
  tick.setAttribute('stroke','#222');
  tick.setAttribute('stroke-width','2.5');
  
  
  const label = addText(cbGroup,colorbarTickLabels[k],cbScale(v),1253,43,'middle');
  
  
});

const cbTitle = addText(cbGroup,'SST (°C)',1699,1317,53,'middle');


</script>
</body>
</html>
